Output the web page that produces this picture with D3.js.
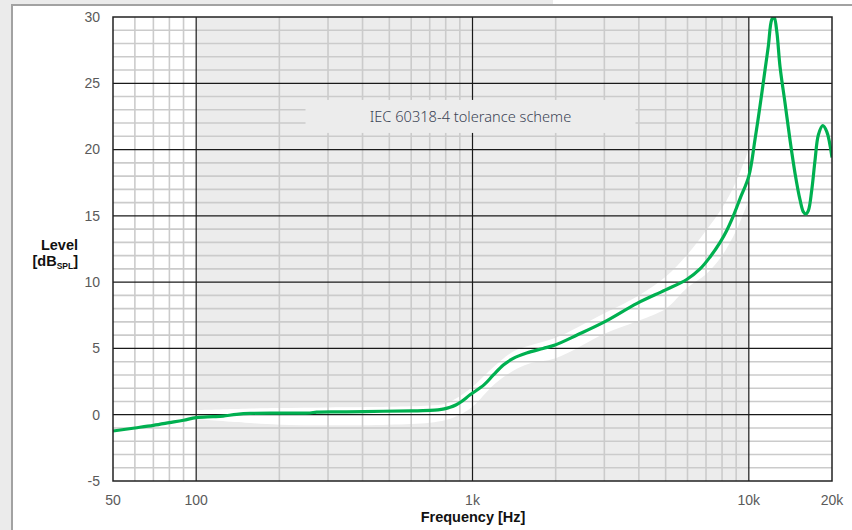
<!DOCTYPE html>
<html>
<head>
<meta charset="utf-8">
<script src="https://cdn.jsdelivr.net/npm/d3@7"></script>
<style>
  html, body { margin: 0; padding: 0; background: #ebebeb; }
  svg { display: block; }
</style>
</head>
<body>
<svg width="852" height="530"></svg>
<script>
// DATA
const freqHz = [50, 60, 70, 80, 90, 100, 115, 125, 140, 157, 200, 258, 273, 350, 475, 600, 702, 750, 790, 830, 870, 910, 980, 1100, 1190, 1293, 1405, 1570, 1800, 1990, 2390, 3015, 3940, 4975, 5960, 6660, 7240, 7870, 8320, 8790, 9295, 10000, 10535, 10980, 11445, 11765, 12105, 12340, 12625, 12970, 13525, 14100, 14700, 15325, 15755, 16070, 16425, 16895, 17365, 17850, 18520, 19145, 20000];
const levelDb = [-1.23, -1.0, -0.8, -0.6, -0.42, -0.22, -0.15, -0.1, 0.03, 0.1, 0.12, 0.13, 0.2, 0.22, 0.26, 0.29, 0.33, 0.37, 0.44, 0.56, 0.73, 0.98, 1.5, 2.25, 3.0, 3.75, 4.25, 4.65, 5.0, 5.26, 6.01, 7.02, 8.4, 9.4, 10.2, 11.0, 11.9, 13.0, 13.9, 15.0, 16.3, 18.0, 20.8, 23.3, 26.0, 27.8, 29.8, 30.0, 28.9, 26.25, 23.5, 20.7, 18.2, 16.2, 15.3, 15.14, 15.4, 16.95, 19.2, 21.1, 21.8, 21.35, 19.4];

const tolFreqHz = [100, 150, 200, 300, 500, 700, 800, 900, 1000, 1200, 1400, 1600, 2000, 3000, 4000, 5000, 6000, 7000, 8000, 9000, 10000];
const tolUpperDb = [0.35, 0.45, 0.5, 0.55, 0.6, 0.7, 0.85, 1.4, 2.1, 3.65, 4.75, 5.2, 5.8, 7.65, 9.0, 10.4, 12.1, 13.9, 15.6, 17.6, 20.0];
const tolLowerDb = [-0.35, -0.6, -0.75, -0.8, -0.75, -0.6, -0.4, 0.0, 0.6, 2.3, 3.3, 3.85, 4.25, 6.1, 7.1, 8.0, 9.6, 10.6, 12.0, 13.9, 16.2];

const xTickValues = [50, 100, 1000, 10000, 20000];
const xTickLabels = ["50", "100", "1k", "10k", "20k"];
const yTickValues = [-5, 0, 5, 10, 15, 20, 25, 30];
const schemeRange = [100, 10000];
const schemeLabel = "IEC 60318-4 tolerance scheme";

const svg = d3.select("svg");

// CONSTANTS
const width = +svg.attr("width");
const height = +svg.attr("height");
const margin = { top: 17, left: 113, right: 20, bottom: 49 };
const innerWidth = width - margin.left - margin.right;
const innerHeight = height - margin.top - margin.bottom;
const green = "#00b050";
const tickFont = "'Liberation Sans', Arial, sans-serif";

// SCALES
const xScale = d3.scaleLog().domain([50, 20000]).range([0, innerWidth]);
const yScale = d3.scaleLinear().domain([-5, 30]).range([innerHeight, 0]);

// page / panel
svg.append("rect").attr("width", width).attr("height", height).attr("fill", "#ebebeb");
svg.append("rect").attr("x", 12).attr("y", 4).attr("width", width).attr("height", height).attr("fill", "#fff");
svg.append("rect").attr("x", 553).attr("y", 0).attr("width", width).attr("height", 4).attr("fill", "#fff");
svg.append("path")
  .attr("d", `M12,${height} L12,5 L${width},5`)
  .attr("fill", "none")
  .attr("stroke", "#a2a2a2")
  .attr("stroke-width", 2);

const g = svg.append("g").attr("transform", `translate(${margin.left}, ${margin.top})`);

g.append("clipPath").attr("id", "plot-clip")
  .append("rect").attr("width", innerWidth).attr("height", innerHeight);

g.append("rect").attr("width", innerWidth).attr("height", innerHeight).attr("fill", "#fff");

// shaded region of the tolerance scheme
g.append("rect")
  .attr("x", xScale(schemeRange[0]))
  .attr("width", xScale(schemeRange[1]) - xScale(schemeRange[0]))
  .attr("height", innerHeight)
  .attr("fill", "#ececec");

// tolerance band
const tol = tolFreqHz.map((f, i) => ({ f, hi: tolUpperDb[i], lo: tolLowerDb[i] }));
const band = d3.area()
  .x(d => xScale(d.f))
  .y0(d => yScale(d.lo))
  .y1(d => yScale(d.hi))
  .curve(d3.curveCatmullRom.alpha(0.5));
g.append("path").datum(tol).attr("d", band).attr("fill", "#fff");

// grid
const minorX = [];
[10, 100, 1000, 10000].forEach(dec => {
  for (let k = 2; k <= 9; k++) {
    const v = dec * k;
    if (v > 50 && v < 20000 && v !== 100 && v !== 1000 && v !== 10000) minorX.push(v);
  }
});
const minorY = d3.range(-4, 30).filter(v => v % 5 !== 0);

g.append("g").selectAll("line").data(minorX).join("line")
  .attr("x1", d => xScale(d)).attr("x2", d => xScale(d))
  .attr("y1", 0).attr("y2", innerHeight)
  .attr("stroke", "#cbcbcb").attr("stroke-width", 1.6);
g.append("g").selectAll("line").data(minorY).join("line")
  .attr("y1", d => yScale(d)).attr("y2", d => yScale(d))
  .attr("x1", 0).attr("x2", innerWidth)
  .attr("stroke", "#cbcbcb").attr("stroke-width", 1.6);

g.append("g").selectAll("line").data([100, 1000, 10000]).join("line")
  .attr("x1", d => xScale(d)).attr("x2", d => xScale(d))
  .attr("y1", 0).attr("y2", innerHeight)
  .attr("stroke", "#1a1a1a").attr("stroke-width", 1.2);
g.append("g").selectAll("line").data(yTickValues.slice(1, -1)).join("line")
  .attr("y1", d => yScale(d)).attr("y2", d => yScale(d))
  .attr("x1", 0).attr("x2", innerWidth)
  .attr("stroke", "#1a1a1a").attr("stroke-width", 1.2);

// label box
const boxW = 330, boxH = 33;
const boxCx = xScale(1000) - 2;
const boxCy = yScale(22.5);
g.append("rect")
  .attr("x", boxCx - boxW / 2).attr("y", boxCy - boxH / 2)
  .attr("width", boxW).attr("height", boxH)
  .attr("fill", "#ececec");
g.append("text")
  .attr("x", boxCx).attr("y", boxCy)
  .attr("dy", "0.35em")
  .attr("text-anchor", "middle")
  .attr("font-family", "'Noto Sans', sans-serif")
  .attr("font-weight", 300)
  .attr("font-size", "14.6px")
  .attr("fill", "#3a4354")
  .text(schemeLabel);

// measured curve
const curveData = freqHz.map((f, i) => ({ f, db: levelDb[i] }));
const line = d3.line()
  .x(d => xScale(d.f))
  .y(d => yScale(d.db))
  .curve(d3.curveCatmullRom.alpha(0.5));
g.append("path").datum(curveData)
  .attr("clip-path", "url(#plot-clip)")
  .attr("d", line)
  .attr("fill", "none")
  .attr("stroke", green)
  .attr("stroke-width", 3.2)
  .attr("stroke-linejoin", "round");

// frame
g.append("rect").attr("width", innerWidth).attr("height", innerHeight)
  .attr("fill", "none").attr("stroke", "#222").attr("stroke-width", 1.5);

// tick labels
g.append("g").selectAll("text").data(yTickValues).join("text")
  .attr("x", -13).attr("y", d => yScale(d)).attr("dy", "0.35em")
  .attr("text-anchor", "end")
  .attr("font-family", tickFont).attr("font-size", "14px").attr("fill", "#5a5a5a")
  .text(d => d);
g.append("g").selectAll("text").data(xTickValues).join("text")
  .attr("x", d => xScale(d)).attr("y", innerHeight + 24)
  .attr("text-anchor", "middle")
  .attr("font-family", tickFont).attr("font-size", "14px").attr("fill", "#5a5a5a")
  .text((d, i) => xTickLabels[i]);

// axis titles
svg.append("text")
  .attr("x", 473).attr("y", 522)
  .attr("text-anchor", "middle")
  .attr("font-family", tickFont).attr("font-weight", "bold").attr("font-size", "14.5px").attr("fill", "#111")
  .text("Frequency [Hz]");

const yTitle = svg.append("text")
  .attr("x", 78).attr("y", 250)
  .attr("text-anchor", "end")
  .attr("font-family", tickFont).attr("font-weight", "bold").attr("font-size", "14.5px").attr("fill", "#111")
  .text("Level");
const yUnit = svg.append("text")
  .attr("x", 78).attr("y", 266)
  .attr("text-anchor", "end")
  .attr("font-family", tickFont).attr("font-weight", "bold").attr("font-size", "14.5px").attr("fill", "#111");
yUnit.append("tspan").text("[dB");
yUnit.append("tspan").attr("font-size", "8.5px").attr("dy", 3).text("SPL");
yUnit.append("tspan").attr("dy", -3).text("]");
</script>
</body>
</html>
